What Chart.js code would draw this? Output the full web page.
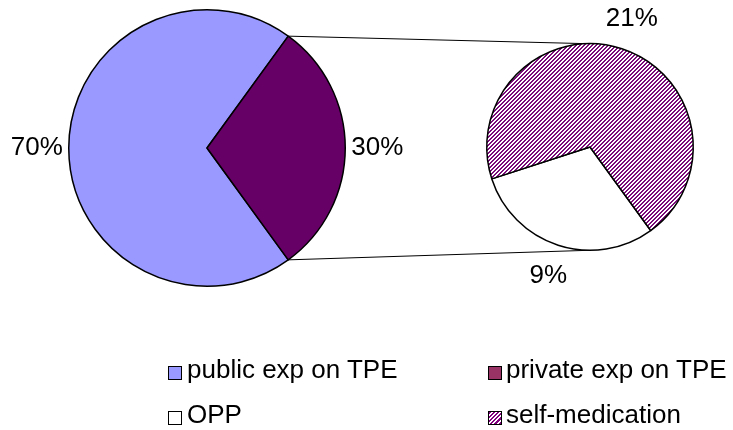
<!DOCTYPE html>
<html>
<head>
<meta charset="utf-8">
<script src="https://cdn.jsdelivr.net/npm/chart.js@4"></script>
<style>
  body { margin: 0; background: #fff; }
  #wrap { position: relative; width: 733px; height: 430px; overflow: hidden; background: #fff; font-family: "Liberation Sans", Arial, sans-serif; }
  #wrap canvas { position: absolute; left: 0; top: 0; }
  .key { position: absolute; font-size: 26px; line-height: 26px; color: #000; white-space: nowrap; }
  .box { position: absolute; width: 12px; height: 12px; border: 1px solid #000; }
</style>
</head>
<body>
<div id="wrap">
  <canvas id="pieA" width="733" height="430"></canvas>
  <canvas id="pieB" width="733" height="430"></canvas>
  <div id="legend"></div>
</div>
<script>
// main pie
const mainLabels = ["public exp on TPE", "private exp on TPE"];
const mainValues = [70, 30];
const mainColors = ["#9999FF", "#660066"];
// split of the private part
const subLabels = ["OPP", "self-medication"];
const subValues = [9, 21];

const font = '26px "Liberation Sans", Arial, sans-serif';

// diagonal hatch for self-medication
const hatch = (function () {
  const c = document.createElement("canvas");
  c.width = 4;
  c.height = 4;
  const g = c.getContext("2d");
  g.fillStyle = "#fff";
  g.fillRect(0, 0, 4, 4);
  g.fillStyle = "#7a0a7a";
  for (let x = 0; x < 4; x++) {
    for (let y = 0; y < 4; y++) {
      if ((x + y) % 4 < 2) g.fillRect(x, y, 1, 1);
    }
  }
  return g.createPattern(c, "repeat");
})();
const subColors = ["#ffffff", hatch];

// percent labels outside each slice
const pctLabels = {
  id: "pctLabels",
  afterDatasetsDraw(chart) {
    const ctx = chart.ctx;
    const vals = chart.data.datasets[0].data;
    ctx.save();
    ctx.font = font;
    ctx.fillStyle = "#000";
    ctx.textAlign = "center";
    ctx.textBaseline = "middle";
    chart.getDatasetMeta(0).data.forEach(function (arc, i) {
      const mid = (arc.startAngle + arc.endAngle) / 2;
      const d = arc.outerRadius + 32;
      ctx.fillText(vals[i] + "%", arc.x + Math.cos(mid) * d, arc.y + Math.sin(mid) * d);
    });
    ctx.restore();
  },
};

const chartA = new Chart(document.getElementById("pieA"), {
  type: "pie",
  data: {
    labels: mainLabels,
    datasets: [{ data: mainValues, backgroundColor: mainColors, borderColor: "#000", borderWidth: 1.5 }],
  },
  options: {
    responsive: false,
    animation: false,
    rotation: 144,
    layout: { padding: { left: 68, top: 9, right: 387, bottom: 143 } },
    plugins: { legend: { display: false }, tooltip: { enabled: false } },
  },
  plugins: [pctLabels],
});

// lines from the private slice to the second pie
const connectors = {
  id: "connectors",
  beforeDatasetsDraw(chart) {
    const a = chartA.getDatasetMeta(0).data[1];
    const b = chart.getDatasetMeta(0).data[0];
    const ctx = chart.ctx;
    ctx.save();
    ctx.strokeStyle = "#000";
    ctx.lineWidth = 1;
    ctx.beginPath();
    ctx.moveTo(a.x + Math.cos(a.startAngle) * a.outerRadius, a.y + Math.sin(a.startAngle) * a.outerRadius);
    ctx.lineTo(b.x, b.y - b.outerRadius);
    ctx.moveTo(a.x + Math.cos(a.endAngle) * a.outerRadius, a.y + Math.sin(a.endAngle) * a.outerRadius);
    ctx.lineTo(b.x, b.y + b.outerRadius);
    ctx.stroke();
    ctx.restore();
  },
};

new Chart(document.getElementById("pieB"), {
  type: "pie",
  data: {
    labels: subLabels,
    datasets: [{ data: subValues, backgroundColor: subColors, borderColor: "#000", borderWidth: 1.5 }],
  },
  options: {
    responsive: false,
    animation: false,
    rotation: 144,
    layout: { padding: { left: 486, top: 43, right: 39, bottom: 179 } },
    plugins: { legend: { display: false }, tooltip: { enabled: false } },
  },
  plugins: [connectors, pctLabels],
});

// legend, 2 x 2
const legendItems = [
  { text: mainLabels[0], bg: "#9999FF", x: 168, y: 366, tx: 187 },
  { text: mainLabels[1], bg: "#993366", x: 488, y: 366, tx: 506 },
  { text: subLabels[0], bg: "#ffffff", x: 168, y: 411, tx: 187 },
  { text: subLabels[1], bg: "repeating-linear-gradient(135deg, #800080 0 1.5px, #fff 1.5px 3px)", x: 488, y: 411, tx: 506 },
];
const legend = document.getElementById("legend");
legendItems.forEach(function (it) {
  const box = document.createElement("div");
  box.className = "box";
  box.style.left = it.x + "px";
  box.style.top = it.y + "px";
  box.style.background = it.bg;
  legend.appendChild(box);
  const t = document.createElement("div");
  t.className = "key";
  t.textContent = it.text;
  t.style.left = it.tx + "px";
  t.style.top = it.y - 10 + "px";
  legend.appendChild(t);
});
</script>
</body>
</html>
